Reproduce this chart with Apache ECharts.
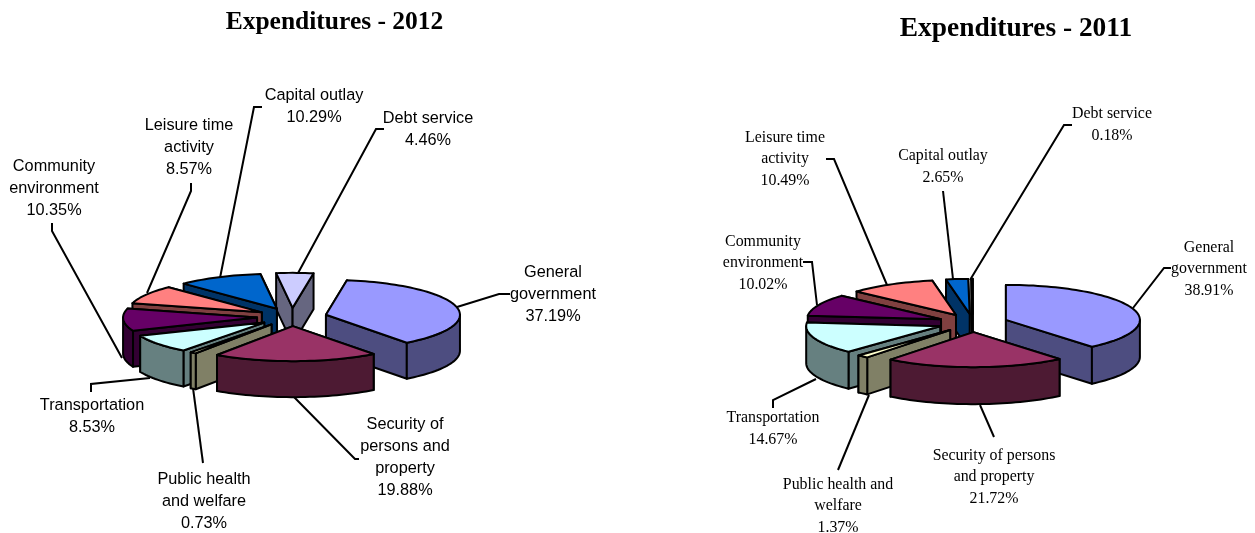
<!DOCTYPE html>
<html><head><meta charset="utf-8">
<style>html,body{margin:0;padding:0;background:#fff}#c{width:1255px;height:533px}</style>
<script src="https://cdn.jsdelivr.net/npm/echarts@6/dist/echarts.min.js"></script>
</head><body><div id="c"></div>
<script>
// ---- data ----
const categories = ['General government','Security of persons and property','Public health and welfare','Transportation','Community environment','Leisure time activity','Capital outlay','Debt service'];
const values2012 = [37.19,19.88,0.73,8.53,10.35,8.57,10.29,4.46];
const values2011 = [38.91,21.72,1.37,14.67,10.02,10.49,2.65,0.18];
const wrapped2012 = ['General\ngovernment','Security of\npersons and\nproperty','Public health\nand welfare','Transportation','Community\nenvironment','Leisure time\nactivity','Capital outlay','Debt service'];
const wrapped2011 = ['General\ngovernment','Security of persons\nand property','Public health and\nwelfare','Transportation','Community\nenvironment','Leisure time\nactivity','Capital outlay','Debt service'];
const titles = ['Expenditures - 2012','Expenditures - 2011'];

// ---- styles and layout ----
const topColors  = ['#9999FF','#993366','#FFFFCC','#CCFFFF','#660066','#FF8080','#0066CC','#CCCCFF'];
const wallColors = ['#4D4D80','#4D1A33','#808066','#668080','#330033','#804040','#003366','#666680'];
const pies = [
  {cx:292,cy:317,rx:134,ry:35,depth:36,explode:35,start:9,
   font:'16.3px "Liberation Sans"',lineHeight:22,
   labelPos:[[553,295],[405,458],[204,502],[92,417],[54,189],[189,148],[314,107],[428,130]],
   leaders:[
    [[457,307],[499,294],[510,294]],[[293,396],[355,459],[359,459]],[[193,388],[203,463]],
    [[150,378],[91,384],[91,392]],[[52,223],[52,231],[122,358]],[[191,183],[191,191],[147,293]],
    [[262,107],[254,107],[220,278]],[[384,129],[376,129],[297,275]]]},
  {cx:973,cy:323,rx:134,ry:35,depth:37,explode:35,start:0,
   font:'15.9px "Liberation Serif"',lineHeight:21.5,
   labelPos:[[1209,269],[994,477],[838,506],[773,429],[763,263],[785,159],[943,167],[1112,125]],
   leaders:[
    [[1133,308],[1164,268],[1171,268]],[[980,405],[994,437]],[[869,395],[838,470]],
    [[816,379],[773,400],[773,408]],[[803,262],[812,262],[817,305]],[[826,159],[834,159],[887,285]],
    [[943,191],[953,279]],[[1072,125],[1064,125],[970,280]]]}
];
const allValues = [values2012,values2011];
const allWrapped = [wrapped2012,wrapped2011];
const stroke = {stroke:'#000',lineWidth:2,lineJoin:'round'};

function slices(values,p){
  const total = values.reduce((a,b)=>a+b,0);
  let acc = p.start;
  return values.map((v,i)=>{
    const a0 = acc, a1 = acc + v/total*360; acc = a1;
    const mid = (a0+a1)/2*Math.PI/180;
    return {i,v,a0,a1,ax:p.cx+p.explode*Math.sin(mid),ay:p.cy-p.explode*Math.cos(mid)*p.ry/p.rx};
  });
}
function pt(s,p,deg,dz){
  const r = deg*Math.PI/180;
  return [s.ax+p.rx*Math.sin(r), s.ay-p.ry*Math.cos(r)+(dz||0)];
}
function arc(s,p,a0,a1,dz){
  const out=[], n=Math.max(2,Math.ceil((a1-a0)/2));
  for(let k=0;k<=n;k++) out.push(pt(s,p,a0+(a1-a0)*k/n,dz));
  return out;
}
function poly(points,fill){
  return {type:'polygon',shape:{points},style:Object.assign({fill},stroke)};
}
function sliceSeries(values,p){
  const list = slices(values,p);
  const ordered = list.slice().sort((a,b)=>a.ay-b.ay);
  return {
    type:'custom',coordinateSystem:'none',silent:true,z:3,animation:false,
    data:ordered.map(s=>[s.i,s.v]),
    renderItem(params,api){
      const s = list[api.value(0)], d=p.depth, apex=[s.ax,s.ay], wall=wallColors[s.i], children=[];
      const o0=pt(s,p,s.a0), o1=pt(s,p,s.a1);
      const radial=[
        {y:o0[1],pts:[apex,o0,[o0[0],o0[1]+d],[apex[0],apex[1]+d]]},
        {y:o1[1],pts:[apex,o1,[o1[0],o1[1]+d],[apex[0],apex[1]+d]]}
      ].sort((a,b)=>a.y-b.y);
      radial.forEach(r=>children.push(poly(r.pts,wall)));
      const f0=Math.max(s.a0,90), f1=Math.min(s.a1,270);
      if(f1>f0) children.push(poly(arc(s,p,f0,f1,0).concat(arc(s,p,f0,f1,d).reverse()),wall));
      children.push(poly([apex].concat(arc(s,p,s.a0,s.a1,0)),topColors[s.i]));
      return {type:'group',children};
    }
  };
}
function leaderSeries(p){
  return {
    type:'custom',coordinateSystem:'none',silent:true,z:2,animation:false,
    data:p.leaders.map((l,i)=>[i]),
    renderItem(params,api){
      return {type:'polyline',shape:{points:p.leaders[api.value(0)]},style:{fill:null,stroke:'#000',lineWidth:2}};
    }
  };
}
function labelSeries(values,wrapped,p){
  return {
    type:'custom',coordinateSystem:'none',silent:true,z:4,animation:false,
    data:values.map((v,i)=>[i,v]),
    renderItem(params,api){
      const i=api.value(0), pos=p.labelPos[i];
      return {type:'text',style:{x:pos[0],y:pos[1],text:wrapped[i]+'\n'+api.value(1).toFixed(2)+'%',
        font:p.font,lineHeight:p.lineHeight,fill:'#000',align:'center',verticalAlign:'middle'}};
    }
  };
}
const series=[];
pies.forEach((p,k)=>{
  series.push(leaderSeries(p),sliceSeries(allValues[k],p),labelSeries(allValues[k],allWrapped[k],p));
});
const chart = echarts.init(document.getElementById('c'),null,{renderer:'canvas'});
chart.setOption({
  backgroundColor:'#fff',animation:false,
  title:[
    {text:titles[0],left:329.5,top:4,textAlign:'center',textStyle:{fontFamily:'"Liberation Serif"',fontWeight:'bold',fontSize:25.5,color:'#000'}},
    {text:titles[1],left:1011,top:10,textAlign:'center',textStyle:{fontFamily:'"Liberation Serif"',fontWeight:'bold',fontSize:27.4,color:'#000'}}
  ],
  series
});
</script></body></html>
